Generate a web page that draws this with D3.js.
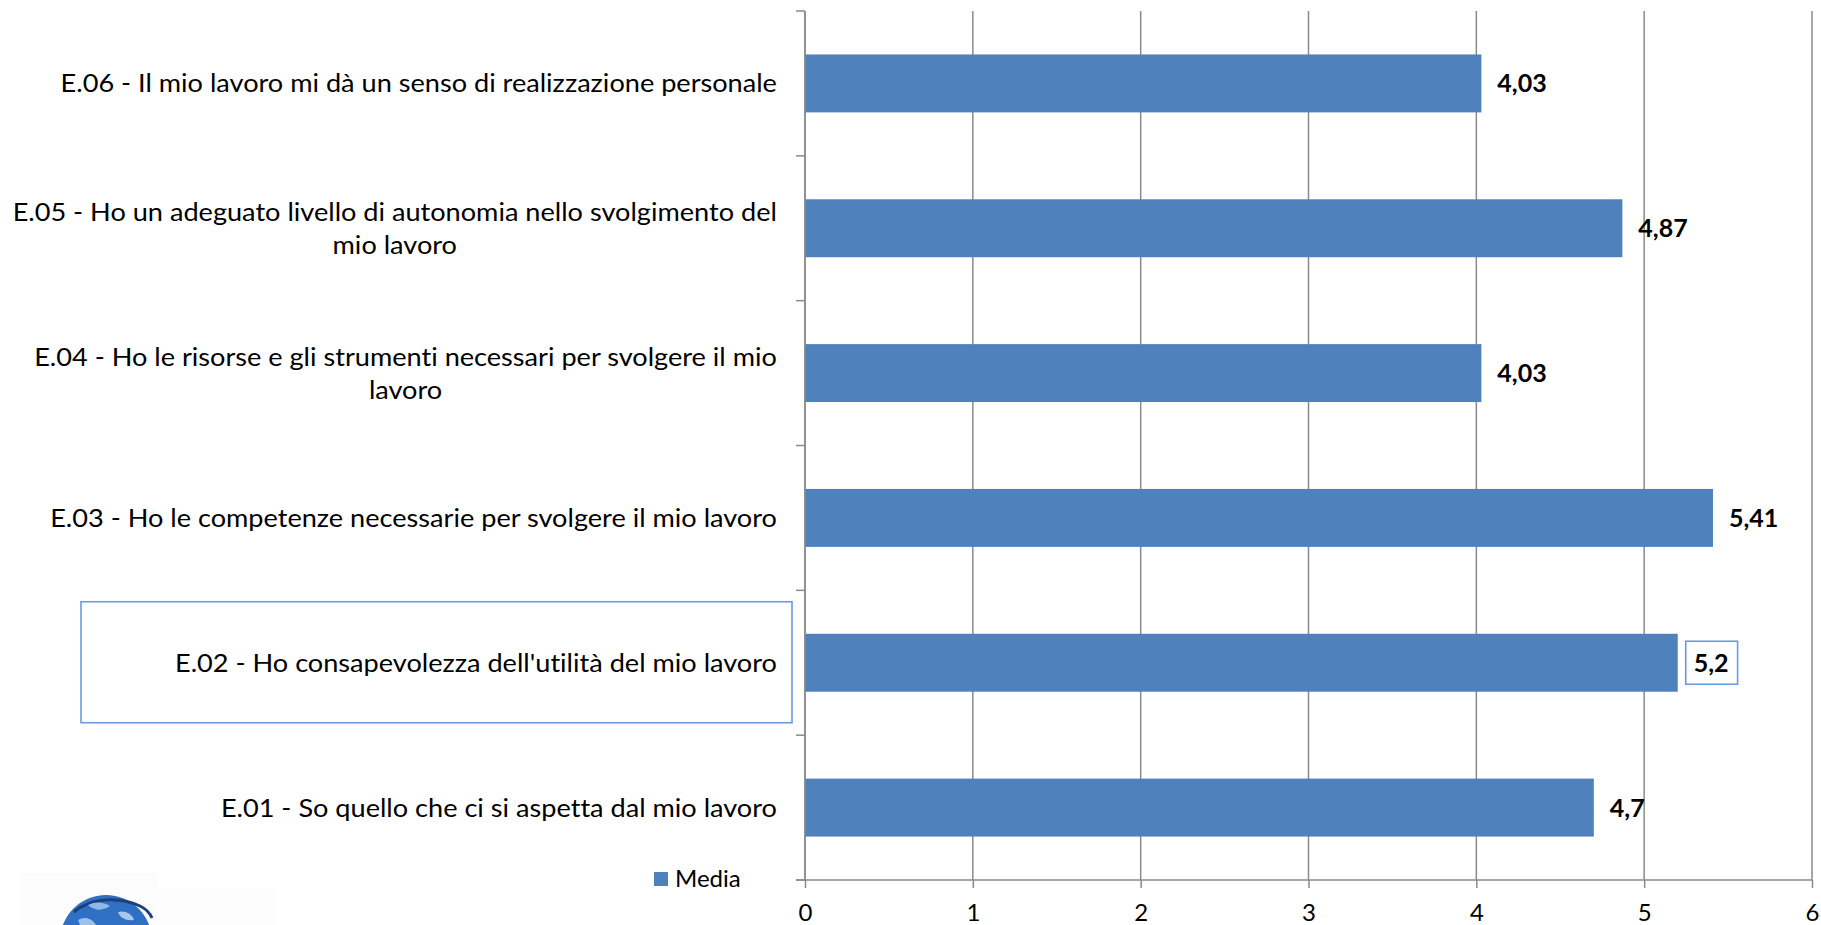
<!DOCTYPE html>
<html>
<head>
<meta charset="utf-8">
<script src="https://cdn.jsdelivr.net/npm/d3@7"></script>
<style>
  html, body { margin: 0; padding: 0; background: #ffffff; }
  svg { display: block; }
  text { font-family: Lato, "Noto Sans", sans-serif; fill: #000; font-variant-ligatures: none; font-feature-settings: "liga" 0; }
</style>
</head>
<body>
<svg id="chart" width="1821" height="925"></svg>
<script>
// Survey items, top to bottom, each split into its display lines
const categories = ["E.06", "E.05", "E.04", "E.03", "E.02", "E.01"];
const labelLines = [
  ["E.06 - Il mio lavoro mi dà un senso di realizzazione personale"],
  ["E.05 - Ho un adeguato livello di autonomia nello svolgimento del", "mio lavoro"],
  ["E.04 - Ho le risorse e gli strumenti necessari per svolgere il mio", "lavoro"],
  ["E.03 - Ho le competenze necessarie per svolgere il mio lavoro"],
  ["E.02 - Ho consapevolezza dell'utilità del mio lavoro"],
  ["E.01 - So quello che ci si aspetta dal mio lavoro"]
];
const mediaValues = [4.03, 4.87, 4.03, 5.41, 5.2, 4.7];
const xTicks = [0, 1, 2, 3, 4, 5, 6];
const seriesName = "Media";
const highlighted = "E.02";

const barColor = "#4F81BD";
const gridColor = "#8a8a8a";
const boxColor = "#6a9ae0";

const svg = d3.select("#chart");

const plot = { left: 805, right: 1812, top: 11, bottom: 880 };

const x = d3.scaleLinear().domain([0, 6]).range([plot.left, plot.right]);
const y = d3.scaleBand().domain(categories)
  .range([plot.top, plot.bottom])
  .paddingInner(0.6).paddingOuter(0.3);

const fmt = v => String(v).replace(".", ",");

// faint logo background
const logo = svg.append("g");
logo.append("rect").attr("x", 20).attr("y", 873).attr("width", 137).attr("height", 60).attr("fill", "#fcfcfc");
logo.append("rect").attr("x", 157).attr("y", 888).attr("width", 120).attr("height", 45).attr("fill", "#fdfdfd");
// globe emblem
logo.append("circle").attr("cx", 106).attr("cy", 941).attr("r", 46).attr("fill", "#2f6fc4");
logo.append("path").attr("d", "M74,912 C90,898 118,896 140,906 C146,909 150,913 152,918")
  .attr("fill", "none").attr("stroke", "#1d3f7a").attr("stroke-width", 3);
logo.append("path").attr("d", "M88,905 C96,901 104,902 110,906 C104,910 96,912 88,905 Z").attr("fill", "#8fb8e8");
logo.append("path").attr("d", "M118,912 C126,910 132,914 134,920 C126,921 120,918 118,912 Z").attr("fill", "#a8c8ee");
logo.append("path").attr("d", "M78,920 C84,916 92,918 96,925 L80,925 Z").attr("fill", "#9cc0ea");

// vertical gridlines
svg.append("g").selectAll("line").data(xTicks).join("line")
  .attr("x1", d => x(d)).attr("x2", d => x(d))
  .attr("y1", plot.top).attr("y2", plot.bottom)
  .attr("stroke", gridColor).attr("stroke-width", 1.5);

// bars
svg.append("g").selectAll("rect").data(categories).join("rect")
  .attr("x", x(0))
  .attr("y", d => y(d))
  .attr("width", (d, i) => x(mediaValues[i]) - x(0))
  .attr("height", y.bandwidth())
  .attr("fill", barColor);

// category axis: line and tick marks on band boundaries
const gap = (y.step() - y.bandwidth()) / 2;
const boundaries = categories.map(c => y(c) - gap).concat([plot.bottom]);
svg.append("line")
  .attr("x1", x(0)).attr("x2", x(0))
  .attr("y1", plot.top).attr("y2", plot.bottom)
  .attr("stroke", gridColor).attr("stroke-width", 1.5);
svg.append("g").selectAll("line").data(boundaries).join("line")
  .attr("x1", x(0) - 9).attr("x2", x(0))
  .attr("y1", d => d).attr("y2", d => d)
  .attr("stroke", gridColor).attr("stroke-width", 1.5);

// value axis
const xAxis = d3.axisBottom(x).tickValues(xTicks).tickFormat(d => String(d))
  .tickSize(8).tickSizeOuter(0).tickPadding(16);
const gx = svg.append("g").attr("transform", `translate(0,${plot.bottom})`).call(xAxis);
gx.select(".domain").remove();
gx.append("line").attr("x1", x(0) - 9).attr("x2", plot.right)
  .attr("stroke", gridColor).attr("stroke-width", 1.5);
gx.selectAll(".tick line").attr("stroke", gridColor).attr("stroke-width", 1.5);
gx.selectAll(".tick text")
  .attr("font-size", 24).attr("font-family", "Lato, sans-serif").attr("fill", "#000")
  .attr("dy", "0.72em");

// category labels (multi-line labels centred as a block, block right-aligned)
const labelRight = 777;
const lineH = 33;
const labelSize = 25;
const labelStretch = 1.085;
categories.forEach((c, i) => {
  const lines = labelLines[i];
  const cy = y(c) + y.bandwidth() / 2;
  const g = svg.append("g");
  const texts = lines.map((ln, k) => g.append("text")
    .attr("font-size", labelSize)
    .attr("y", cy + (k - (lines.length - 1) / 2) * lineH)
    .attr("dy", "0.36em")
    .attr("text-anchor", "middle")
    .text(ln));
  const maxW = d3.max(texts, t => t.node().getComputedTextLength()) * labelStretch;
  g.attr("transform", `translate(${labelRight - maxW / 2},0) scale(${labelStretch},1)`);
  if (c === highlighted) {
    svg.append("rect")
      .attr("x", 81).attr("y", cy - 61)
      .attr("width", x(0) - 13 - 81).attr("height", 121)
      .attr("fill", "none").attr("stroke", boxColor).attr("stroke-width", 1.6);
  }
});

// value labels
categories.forEach((c, i) => {
  const cy = y(c) + y.bandwidth() / 2;
  const t = svg.append("text")
    .attr("x", x(mediaValues[i]) + 16)
    .attr("y", cy)
    .attr("dy", "0.36em")
    .attr("font-size", 25).attr("font-weight", 700)
    .text(fmt(mediaValues[i]));
  if (c === highlighted) {
    const bb = t.node().getBBox();
    svg.append("rect")
      .attr("x", bb.x - 8).attr("y", cy - 21.5)
      .attr("width", bb.width + 17).attr("height", 43)
      .attr("fill", "none").attr("stroke", boxColor).attr("stroke-width", 1.6);
  }
});

// legend
const legend = svg.append("g");
legend.append("rect").attr("x", 654).attr("y", 872).attr("width", 14).attr("height", 14).attr("fill", barColor);
legend.append("text").attr("x", 675).attr("y", 887).attr("font-size", 24).text(seriesName);
</script>
</body>
</html>
